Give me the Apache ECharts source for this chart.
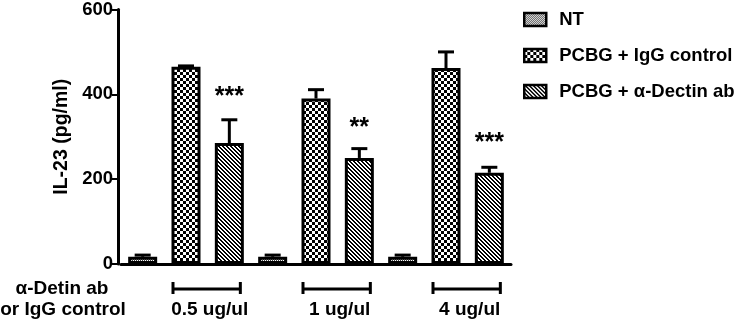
<!DOCTYPE html>
<html>
<head>
<meta charset="utf-8">
<script src="https://cdn.jsdelivr.net/npm/echarts@6/dist/echarts.min.js"></script>
<style>
  html, body { margin: 0; padding: 0; background: #fff; }
  #chart { width: 738px; height: 325px; }
</style>
</head>
<body>
<div id="chart"></div>
<script>
// one bar per slot: NT, IgG control, anti-Dectin for each dose
var categories = ["NT", "IgG", "Dectin", "NT", "IgG", "Dectin", "NT", "IgG", "Dectin"];
var ntValues = [17, "-", "-", 17, "-", "-", 17, "-", "-"];
var iggValues = ["-", 465, "-", "-", 390, "-", "-", 462, "-"];
var dectinValues = ["-", "-", 285, "-", "-", 250, "-", "-", 215];
var errors = [4, 2, 55, 4, 21, 22, 4, 38, 13];
var stars = ["", "", "***", "", "", "**", "", "", "***"];
var starValues = [0, 0, 405, 0, 0, 331, 0, 0, 297];
var doseLabels = ["0.5 ug/ul", "1 ug/ul", "4 ug/ul"];
var doseSlots = [[1, 2], [4, 5], [7, 8]];

var font = "Liberation Sans, Arial, sans-serif";

function makeTile(w, h, draw) {
  var c = document.createElement("canvas");
  c.width = w;
  c.height = h;
  var ctx = c.getContext("2d");
  ctx.fillStyle = "#fff";
  ctx.fillRect(0, 0, w, h);
  ctx.fillStyle = "#000";
  draw(ctx);
  return { image: c, repeat: "repeat" };
}

var ntPattern = makeTile(2, 2, function (ctx) {
  ctx.fillStyle = "#444";
  ctx.fillRect(0, 0, 1, 1);
  ctx.fillRect(1, 1, 1, 1);
});
var checkPattern = makeTile(6, 6, function (ctx) {
  ctx.fillRect(0, 0, 3, 3);
  ctx.fillRect(3, 3, 3, 3);
});
var hatchPattern = makeTile(4, 4, function (ctx) {
  for (var i = 0; i < 4; i++) {
    ctx.fillRect(i, i, 1, 1);
    ctx.fillRect((i + 1) % 4, i, 1, 1);
  }
});

var myChart = echarts.init(document.getElementById("chart"));

function barSeries(name, data, pattern) {
  return {
    name: name,
    type: "bar",
    data: data,
    barWidth: 29,
    barGap: "-100%",
    itemStyle: {
      color: pattern,
      borderColor: "#000",
      borderWidth: 3
    }
  };
}

var means = categories.map(function (c, i) {
  var v = [ntValues[i], iggValues[i], dectinValues[i]].filter(function (x) { return x !== "-"; });
  return v[0];
});

var option = {
  animation: false,
  grid: { left: 121, top: 8, width: 390, height: 256 },
  legend: {
    orient: "vertical",
    left: 518,
    top: 5,
    itemWidth: 22,
    itemHeight: 13,
    itemGap: 17,
    icon: "rect",
    itemStyle: { borderColor: "#000", borderWidth: 2.5 },
    textStyle: { fontFamily: font, fontWeight: "bold", fontSize: 18.5, lineHeight: 13, color: "#000", padding: [0, 0, 0, 8] },
    data: ["NT", "PCBG + IgG control", "PCBG + \u03b1-Dectin ab"]
  },
  xAxis: {
    type: "category",
    data: categories,
    axisLine: { lineStyle: { color: "#000", width: 3 } },
    axisTick: { alignWithLabel: true, length: 7, interval: 0, lineStyle: { color: "#000", width: 2 } },
    axisLabel: { show: false },
    splitLine: { show: false }
  },
  yAxis: {
    type: "value",
    min: 0,
    max: 600,
    interval: 200,
    offset: 3,
    name: "IL-23 (pg/ml)",
    nameLocation: "middle",
    nameGap: 45,
    nameTextStyle: { fontFamily: font, fontWeight: "bold", fontSize: 19.5, color: "#000" },
    axisLine: { show: true, lineStyle: { color: "#000", width: 3 } },
    axisTick: { show: true, length: 6, lineStyle: { color: "#000", width: 2 } },
    axisLabel: { fontFamily: font, fontWeight: "bold", fontSize: 18.5, color: "#000", margin: 5 },
    splitLine: { show: false }
  },
  series: [
    barSeries("NT", ntValues, ntPattern),
    barSeries("PCBG + IgG control", iggValues, checkPattern),
    barSeries("PCBG + \u03b1-Dectin ab", dectinValues, hatchPattern),
    {
      type: "custom",
      z: 1,
      data: means.map(function (m, i) { return [i, m, errors[i], starValues[i]]; }),
      renderItem: function (params, api) {
        var i = api.value(0);
        var base = api.coord([i, api.value(1)]);
        var top = api.coord([i, api.value(1) + api.value(2)]);
        var children = [
          { type: "line", shape: { x1: base[0], y1: base[1], x2: top[0], y2: top[1] }, style: { stroke: "#000", lineWidth: 3 } },
          { type: "line", shape: { x1: top[0] - 8, y1: top[1], x2: top[0] + 8, y2: top[1] }, style: { stroke: "#000", lineWidth: 3 } }
        ];
        if (stars[i]) {
          var sp = api.coord([i, api.value(3)]);
          children.push({
            type: "text",
            x: sp[0],
            y: sp[1] + 5,
            style: { text: stars[i], fill: "#000", font: "bold 25px " + font, align: "center", verticalAlign: "middle" }
          });
        }
        return { type: "group", children: children };
      }
    }
  ]
};
myChart.setOption(option);

// dose brackets below the axis, placed from the category scale
var graphics = [
  { type: "text", x: 62, y: 289, style: { text: "\u03b1-Detin ab", font: "bold 19px " + font, fill: "#000", align: "center", verticalAlign: "middle" } },
  { type: "text", x: 63, y: 310, style: { text: "or IgG control", font: "bold 19px " + font, fill: "#000", align: "center", verticalAlign: "middle" } }
];
doseSlots.forEach(function (slots, k) {
  var x1 = myChart.convertToPixel({ xAxisIndex: 0 }, slots[0]) - 13;
  var x2 = myChart.convertToPixel({ xAxisIndex: 0 }, slots[1]) + 11;
  var y = 289;
  graphics.push({ type: "line", shape: { x1: x1, y1: y, x2: x2, y2: y }, style: { stroke: "#000", lineWidth: 3 } });
  graphics.push({ type: "line", shape: { x1: x1, y1: y - 7, x2: x1, y2: y + 5 }, style: { stroke: "#000", lineWidth: 3 } });
  graphics.push({ type: "line", shape: { x1: x2, y1: y - 7, x2: x2, y2: y + 5 }, style: { stroke: "#000", lineWidth: 3 } });
  graphics.push({ type: "text", x: (x1 + x2) / 2 + 3, y: 310, style: { text: doseLabels[k], font: "bold 19px " + font, fill: "#000", align: "center", verticalAlign: "middle" } });
});
myChart.setOption({ graphic: graphics });
</script>
</body>
</html>
